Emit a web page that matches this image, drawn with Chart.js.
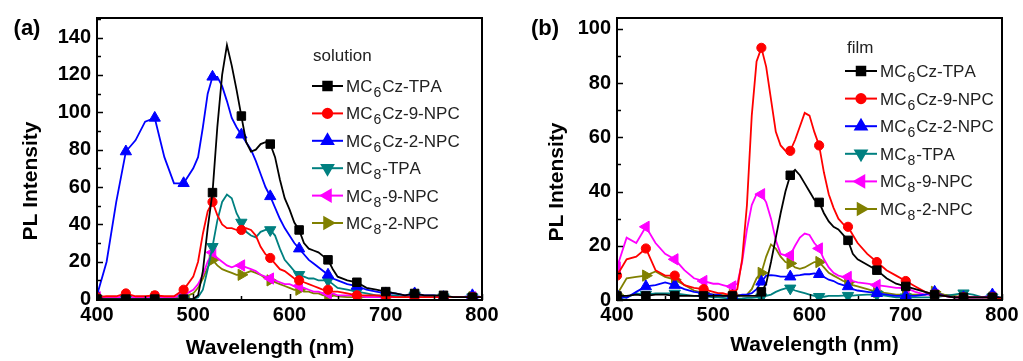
<!DOCTYPE html>
<html>
<head>
<meta charset="utf-8">
<script src="https://cdn.jsdelivr.net/npm/chart.js@4.4.1/dist/chart.umd.min.js"></script>
<style>
  html, body { margin: 0; padding: 0; background: #fff; }
  #wrap { position: relative; width: 1023px; height: 361px; overflow: hidden; background: #fff; }
  canvas { position: absolute; top: 0; }
  #ca { left: 0; }
  #cb { left: 510px; }
</style>
</head>
<body>
<div id="wrap">
  <canvas id="ca" width="510" height="361"></canvas>
  <canvas id="cb" width="513" height="361"></canvas>
</div>
<script>
// ---------------- DATA ----------------
const wavelength = [400,410,420,430,440,450,460,470,480,490,500,
  505,510,515,520,525,530,535,540,545,550,555,560,565,570,575,580,585,590,595,600,605,610,615,620,625,630,635,640,645,650,
  660,670,680,690,700,710,720,730,740,750,760,770,780,790,800];

const seriesNames = ["MC_6Cz-TPA","MC_6Cz-9-NPC","MC_6Cz-2-NPC","MC_8-TPA","MC_8-9-NPC","MC_8-2-NPC"];

// (a) solution
const solTPA6   = [0,0,0,0,0,0,0,0,0,0,0, 2,15,38,57,92,120,136,125,112,98,84,79,80,83,84,83,76,64,54,48,41,37,30,27,26,25,23,21,16,12, 10,9,6,5,4,3,2,3,2,2,2,1,1,1,1];
const sol9NPC6  = [1,1.5,1.5,3,1.5,1.5,2,1.5,1.5,5,12, 20,35,47,52,45,40,38,38,37,37,38,37,34,28,24,22,19,16,15,13,11,10,9,8,7,6,5,5,4,4, 3,2,2,2,1.5,1,1,1,1,1,1,1,1,1,1];
const sol2NPC6  = [2,20,52,79,85,95,97,76,62,62,70, 76,92,110,119,119,114,106,97,92,88,84,80,74,67,60,55,49,43,38,34,30,27,24,21,19,17,15,13,11,10, 8,7,5,4,3,3,2,3,2,2,1,1,1,2,1];
const solTPA8   = [0,0,0,0,0,0,0,0,0,0,0, 1,5,16,28,42,52,56,54,46,41,36,34,33,36,37,37,34,27,21,18,15,13,12,11,11,10,10,10,8,6, 5,4,3,2,2,2,1,2,1,1,1,1,1,1,1];
const sol9NPC8  = [1,1,1,1,1,1,1,1,1,2,5, 8,13,20,25,22,20,18,17,18,18,17,16,15,13,12,11,10,9,8,8,7,7,6,5,4,4,3,3,3,2, 2,2,1,1,1,1,1,1,1,1,1,1,1,1,1];
const sol2NPC8  = [0.5,0.5,0.5,1,0.5,0.5,1,0.5,0.5,1,3, 6,11,17,21,18,16,15,14,13,13,14,15,14,13,11,10,9,8,7,6,5,5,4,4,3,3,2,2,2,1.5, 1,1,1,1,1,1,1,2,1,1,1,1,1,1,1];

// (b) film
const filmTPA6  = [1.5,1.5,2,1.5,2,2,1.5,1.5,1.5,1.5,1.5, 1.5,1.5,1.5,1.5,1.5,1.5,1.5,1.5,1.5,3,6,14,23,32,40,46,48,46,43,40,37,36,32,29,27,26,24,22,17,15, 13,11,8,6,5,4,3,2,1.5,1,1,1,1,1,1];
const film9NPC6 = [9,15,16,19,11,9,9,5.5,4.5,4,3, 2.5,2.5,2,2,4,15,35,68,88,93,86,74,62,57,55,55,59,64,69,68,62,57,47,39,34,30,28,27,24,21, 17,14,11,9,7,5,3,2,1.5,1,1,1,1,1,0.5];
const film2NPC6 = [1.8,0.8,3,5,5.5,6.5,5.5,4,3,2.5,2, 2,1.5,1.5,1.5,1.5,2,2,2.5,4,6.7,9,9.2,9,8.6,8.6,8.6,9,9.2,9.5,9.5,9.8,9.5,8.5,7.5,7,6,5.5,5,4,3.5, 3,2.5,2,1.5,1.5,1.5,2,3,1.5,1,1,1,1,2,0.5];
const filmTPA8  = [0.6,1,2.4,2,2.4,2.4,2.4,2,1.5,1.5,1, 1,0.8,0.6,0.5,0.5,0.6,0.8,0.8,1,1,1.5,2,3,3.7,4.3,4.3,3.5,3,2.5,2,1.5,1.2,1.2,1.5,1.5,1.5,1.6,1.6,1.6,1.8, 2,2,1.5,1,1,1,1,1,1.5,2,2.5,2,1,1,0.5];
const film9NPC8 = [12,23,21,27,21,17,15,11,8,7,6, 6,5.5,5,5,6,14,26,35,39,39,36,30,22,17,16.5,16.5,20,23,24.5,24,21,19,15,12,10,9,8.5,8.5,7,6.5, 6,5.5,5,4.5,4.5,3,2,2,1.5,1,1,1,1,1,0.5];
const film2NPC8 = [2,8,8.5,9,10.5,8.5,7.5,5.5,3.5,2.5,2, 2,1.8,1.8,1.8,1.8,1.8,2,4,8,10,16,20.5,19,16,14,13.5,12,11.5,12,13,14,14,12,10,9,8,7,6.5,5.5,5, 4,3,2.5,2,2,2,2,3,2,1.5,1,1,1,1,0.5];

const xTicks  = [400,500,600,700,800];
const yTicksA = [0,20,40,60,80,100,120,140];
const yTicksB = [0,20,40,60,80,100];

// ---------------- STYLE ----------------
const FONT = "'Liberation Sans', Arial, Helvetica, sans-serif";
Chart.defaults.font.family = FONT;
const colors = ['#000000','#ff0000','#0000ff','#008080','#ff00ff','#808000'];
const pStyles = ['rect','circle','triangle','triangle','triangle','triangle'];
const pRot = [0,0,0,180,270,90];
const pRad = [6,4.6,6.5,6.5,6.5,6.5];

function markerRadius(i) {
  return (c) => (c.raw && ((c.raw.x - 400) % 30 === 0)) ? pRad[i] : 0;
}

function makeDatasets(seriesList) {
  return seriesList.map((vals, i) => ({
    label: seriesNames[i],
    data: wavelength.map((w, j) => ({ x: w, y: vals[j] })),
    borderColor: colors[i],
    backgroundColor: colors[i],
    borderWidth: 1.8,
    pointStyle: pStyles[i],
    pointRotation: pRot[i],
    pointRadius: markerRadius(i),
    pointBorderWidth: 1,
    pointBackgroundColor: colors[i],
    pointBorderColor: colors[i],
    tension: 0,
    fill: false
  }));
}

function drawMarker(ctx, style, rot, r, x, y) {
  if (Chart.helpers && Chart.helpers.drawPoint) {
    Chart.helpers.drawPoint(ctx, { pointStyle: style, rotation: rot, radius: r, borderWidth: 1 }, x, y);
    return;
  }
  ctx.beginPath();
  ctx.arc(x, y, r, 0, Math.PI * 2);
  ctx.fill();
}

function drawSubText(ctx, str, x, y, size) {
  // "_d" -> subscript digit
  let cx = x;
  for (let k = 0; k < str.length; k++) {
    const ch = str[k];
    if (ch === '_' && k + 1 < str.length) {
      const sub = str[k + 1];
      ctx.font = `${Math.round(size * 0.85)}px ${FONT}`;
      ctx.fillText(sub, cx + 1, y + 5);
      cx += ctx.measureText(sub).width + 2;
      k++;
    } else {
      ctx.font = `${size}px ${FONT}`;
      ctx.fillText(ch, cx, y);
      cx += ctx.measureText(ch).width;
    }
  }
}

const decoPlugin = {
  id: 'deco',
  afterDraw(chart, args, o) {
    const ctx = chart.ctx;
    const ca = chart.chartArea;
    const xs = chart.scales.x, ys = chart.scales.y;
    ctx.save();
    // frame
    ctx.strokeStyle = '#000';
    ctx.lineWidth = 2;
    ctx.strokeRect(ca.left, ca.top, ca.right - ca.left, ca.bottom - ca.top);
    // inward ticks
    ctx.lineWidth = 1.5;
    ctx.beginPath();
    for (let v = 400; v <= 800; v += 50) {
      const p = Math.round(xs.getPixelForValue(v)) + 0.5;
      const len = (v % 100 === 0) ? 6 : 4;
      ctx.moveTo(p, ca.bottom);
      ctx.lineTo(p, ca.bottom - len);
    }
    for (let v = 0; v <= o.yMax; v += 10) {
      const p = Math.round(ys.getPixelForValue(v)) + 0.5;
      const len = (v % 20 === 0) ? 6 : 4;
      ctx.moveTo(ca.left, p);
      ctx.lineTo(ca.left + len, p);
    }
    ctx.stroke();

    ctx.fillStyle = '#000';
    // panel label
    ctx.font = `bold 22px ${FONT}`;
    ctx.textAlign = 'center';
    ctx.textBaseline = 'middle';
    ctx.fillText(o.panel, o.panelX, o.panelY);
    // x title
    ctx.font = `bold 21px ${FONT}`;
    ctx.textBaseline = 'alphabetic';
    ctx.fillText('Wavelength (nm)', o.xtX, o.xtY);
    // y title
    ctx.save();
    ctx.translate(o.ytX, o.ytY);
    ctx.rotate(-Math.PI / 2);
    ctx.textBaseline = 'middle';
    ctx.fillText('PL Intensity', 0, 0);
    ctx.restore();

    // legend
    ctx.textAlign = 'left';
    ctx.textBaseline = 'alphabetic';
    ctx.fillStyle = '#222';
    ctx.font = `17px ${FONT}`;
    ctx.fillText(o.legTitle, o.legTitleX, o.legTitleY);
    chart.data.datasets.forEach((ds, i) => {
      const y = o.legY0 + i * o.legDy;
      ctx.strokeStyle = colors[i];
      ctx.fillStyle = colors[i];
      ctx.lineWidth = 2;
      ctx.beginPath();
      ctx.moveTo(o.legX0, y);
      ctx.lineTo(o.legX1, y);
      ctx.stroke();
      drawMarker(ctx, pStyles[i], pRot[i], pRad[i], (o.legX0 + o.legX1) / 2, y);
      ctx.fillStyle = '#222';
      drawSubText(ctx, ds.label, o.legTextX, y + 6, 17);
    });
    ctx.restore();
  }
};

function makeChart(canvasId, seriesList, yMin, yMax, yTicks, yWidth, padRight, deco) {
  const tickFont = { family: FONT, size: 20, weight: 'bold' };
  return new Chart(document.getElementById(canvasId), {
    type: 'line',
    data: { datasets: makeDatasets(seriesList) },
    plugins: [decoPlugin],
    options: {
      responsive: false,
      animation: false,
      devicePixelRatio: 1,
      layout: { padding: { left: 0, right: padRight, top: 16, bottom: 0 } },
      plugins: {
        legend: { display: false },
        tooltip: { enabled: false },
        deco: deco
      },
      scales: {
        x: {
          type: 'linear', min: 400, max: 800,
          afterBuildTicks: s => { s.ticks = xTicks.map(v => ({ value: v })); },
          afterFit: s => { s.height = 61; },
          grid: { display: false, drawTicks: false },
          border: { display: false },
          ticks: { font: tickFont, color: '#000', padding: 3, maxRotation: 0, autoSkip: false }
        },
        y: {
          type: 'linear', min: yMin, max: yMax,
          afterBuildTicks: s => { s.ticks = yTicks.map(v => ({ value: v })); },
          afterFit: s => { s.width = yWidth; },
          grid: { display: false, drawTicks: false },
          border: { display: false },
          ticks: { font: tickFont, color: '#000', padding: 6, autoSkip: false }
        }
      }
    }
  });
}

makeChart('ca', [solTPA6, sol9NPC6, sol2NPC6, solTPA8, sol9NPC8, sol2NPC8],
  -0.5, 150.5, yTicksA, 97, 28, {
    yMax: 150, panel: '(a)', panelX: 27, panelY: 29,
    xtX: 270, xtY: 354, ytX: 31, ytY: 181,
    legTitle: 'solution', legTitleX: 313, legTitleY: 61,
    legY0: 86, legDy: 27.4, legX0: 312, legX1: 343, legTextX: 346
  });

makeChart('cb', [filmTPA6, film9NPC6, film2NPC6, filmTPA8, film9NPC8, film2NPC8],
  0, 104, yTicksB, 107, 21, {
    yMax: 104, panel: '(b)', panelX: 35, panelY: 29,
    xtX: 304.5, xtY: 351, ytX: 47, ytY: 182,
    legTitle: 'film', legTitleX: 337, legTitleY: 53,
    legY0: 71, legDy: 27.6, legX0: 335, legX1: 367, legTextX: 370
  });
</script>
</body>
</html>
